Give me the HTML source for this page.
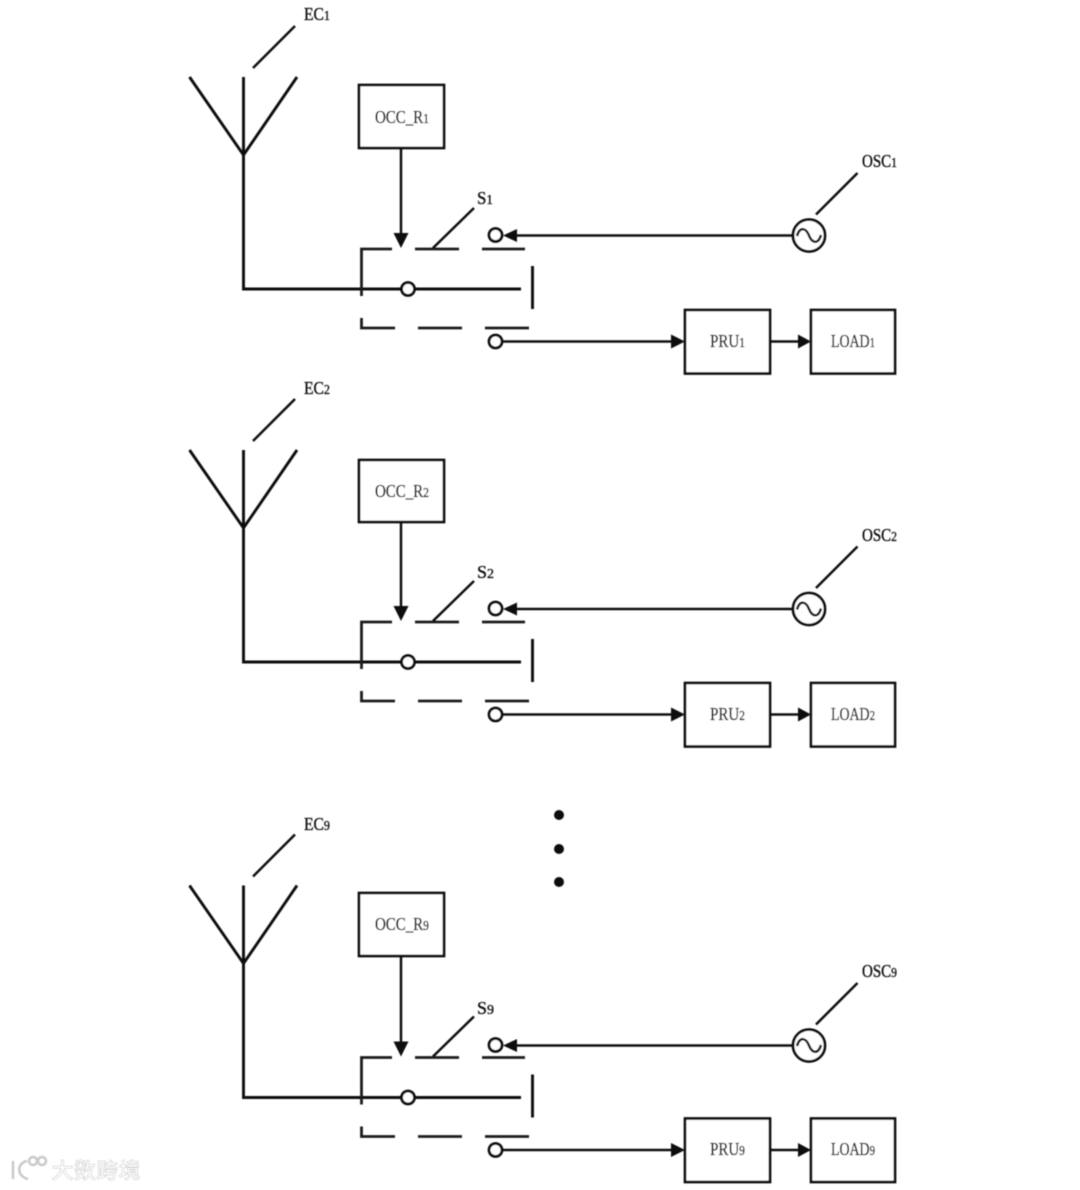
<!DOCTYPE html>
<html>
<head>
<meta charset="utf-8">
<style>
html,body{margin:0;padding:0;background:#fff;width:1080px;height:1190px;overflow:hidden}
svg{display:block}
text{font-family:"Liberation Serif","Noto Serif CJK SC",serif;font-size:18px;fill:#111;stroke:#111;stroke-width:0.35;text-anchor:start}
tspan{font-size:14px}
.l{stroke:#111;stroke-width:2.9;fill:none}
.t{stroke:#111;stroke-width:2.5;fill:none}
.d{stroke:#1a1a1a;stroke-width:2.8;fill:none}
.c{stroke:#111;stroke-width:2.8;fill:#fff}
.b{stroke:#111;stroke-width:2.7;fill:#fff}
.w{font-family:"Liberation Sans","Noto Sans CJK SC",sans-serif;font-size:21px;fill:#fff;stroke:#bdbdbd;stroke-width:1;paint-order:stroke}
</style>
</head>
<body>
<svg width="1080" height="1190" viewBox="0 0 1080 1190" xmlns="http://www.w3.org/2000/svg">
<defs>
<filter id="s" x="-5%" y="-5%" width="110%" height="110%"><feGaussianBlur stdDeviation="0.45"/></filter>
<g id="block">
  <path class="t" d="M253 68L295 26"/>
  <path class="l" d="M189.500 77L243.500 155L297 77M243.500 77V289H521"/>
  <path class="t" d="M401 100V236"/>
  <path d="M393.500 233H408.500L401 248Z" fill="#111"/>
  <path class="d" d="M361.500 296V249H392M415 249H459M482 249H525"/>
  <path class="t" d="M433 248L474 208"/>
  <circle class="c" cx="408" cy="289" r="6.500"/>
  <path class="l" d="M532.500 266V309"/>
  <path class="d" d="M361.500 318V328H395M418 328H462M485 328H529"/>
  <path class="t" d="M500 341.500H675"/>
  <path d="M685 341.500L671 334.500V348.500Z" fill="#111"/>
  <circle class="c" cx="495.500" cy="341.500" r="6.500"/>
  <rect class="b" x="685" y="310" width="85" height="63.500"/>
  <path class="t" d="M770 341.500H800"/>
  <path d="M811 341.500L798 334.500V348.500Z" fill="#111"/>
  <rect class="b" x="811" y="310" width="84" height="63.500"/>
</g>
<g id="osc">
  <path class="t" d="M510 235.500H793"/>
  <path d="M503 235.500L517 229V242Z" fill="#111"/>
  <circle class="c" cx="495.500" cy="235" r="6.500"/>
  <circle class="c" cx="809" cy="235.500" r="16"/>
  <path class="t" d="M797 236C800 226 806 228 809 235.500C812 243 818 245 821 235"/>
  <path class="t" d="M816 214.500L857.500 173"/>
</g>
</defs>
<g filter="url(#s)">
  <use href="#block"/>
  <use href="#osc"/>
  <use href="#block" transform="translate(0,373)"/>
  <use href="#osc" transform="translate(0,373.500)"/>
  <use href="#block" transform="translate(0,808.500)"/>
  <use href="#osc" transform="translate(0,810)"/>

  <rect class="b" x="359" y="85" width="85" height="63"/>
  <rect class="b" x="359" y="460" width="85" height="62"/>
  <rect class="b" x="359" y="893" width="85" height="63"/>

  <circle cx="559" cy="815" r="5" fill="#111"/>
  <circle cx="559" cy="849" r="5" fill="#111"/>
  <circle cx="559" cy="882" r="5" fill="#111"/>

  <text x="304" y="20" textLength="26" lengthAdjust="spacingAndGlyphs">EC<tspan>1</tspan></text>
  <text x="375" y="123" textLength="54" lengthAdjust="spacingAndGlyphs">OCC_R<tspan>1</tspan></text>
  <text x="477" y="204" textLength="16" lengthAdjust="spacingAndGlyphs">S<tspan>1</tspan></text>
  <text x="862" y="167" textLength="35" lengthAdjust="spacingAndGlyphs">OSC<tspan>1</tspan></text>
  <text x="710" y="347" textLength="35" lengthAdjust="spacingAndGlyphs">PRU<tspan>1</tspan></text>
  <text x="831" y="347" textLength="44" lengthAdjust="spacingAndGlyphs">LOAD<tspan>1</tspan></text>

  <text x="304" y="394" textLength="26" lengthAdjust="spacingAndGlyphs">EC<tspan>2</tspan></text>
  <text x="375" y="497" textLength="54" lengthAdjust="spacingAndGlyphs">OCC_R<tspan>2</tspan></text>
  <text x="477" y="578" textLength="17" lengthAdjust="spacingAndGlyphs">S<tspan>2</tspan></text>
  <text x="862" y="541" textLength="35" lengthAdjust="spacingAndGlyphs">OSC<tspan>2</tspan></text>
  <text x="710" y="720" textLength="35" lengthAdjust="spacingAndGlyphs">PRU<tspan>2</tspan></text>
  <text x="831" y="720" textLength="44" lengthAdjust="spacingAndGlyphs">LOAD<tspan>2</tspan></text>

  <text x="304" y="830" textLength="26" lengthAdjust="spacingAndGlyphs">EC<tspan>9</tspan></text>
  <text x="375" y="930" textLength="54" lengthAdjust="spacingAndGlyphs">OCC_R<tspan>9</tspan></text>
  <text x="477" y="1014" textLength="17" lengthAdjust="spacingAndGlyphs">S<tspan>9</tspan></text>
  <text x="862" y="977" textLength="35" lengthAdjust="spacingAndGlyphs">OSC<tspan>9</tspan></text>
  <text x="710" y="1155" textLength="35" lengthAdjust="spacingAndGlyphs">PRU<tspan>9</tspan></text>
  <text x="831" y="1155" textLength="44" lengthAdjust="spacingAndGlyphs">LOAD<tspan>9</tspan></text>

  <g fill="none" stroke="#c9c9c9" stroke-width="2.500">
    <path d="M13 1161V1179"/>
    <path d="M27 1161C17 1163 16 1176 28 1179"/>
    <circle cx="33" cy="1161" r="4"/>
    <circle cx="42" cy="1161" r="4"/>
  </g>
  <text class="w" x="52" y="1178" textLength="88" lengthAdjust="spacing" style="font-size:21px;fill:#fff;stroke:#bdbdbd;stroke-width:1">大数跨境</text>
</g>
</svg>
</body>
</html>
